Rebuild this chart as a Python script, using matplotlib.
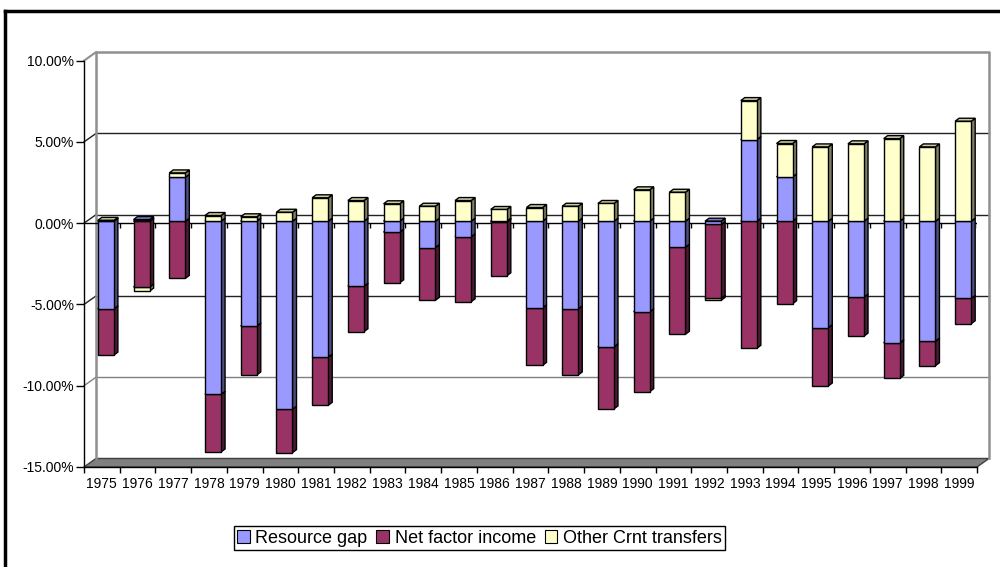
import matplotlib
matplotlib.use('Agg')
import matplotlib.pyplot as plt
from matplotlib.patches import Polygon, Patch
from matplotlib.lines import Line2D
import numpy as np

plt.rcParams['font.family'] = ['Liberation Sans', 'DejaVu Sans']

# Data (% of GDP)
years = [str(y) for y in range(1975, 2000)]
resource_gap = [-5.39, 0.10, 2.70, -10.65, -6.45, -11.57, -8.36, -4.00, -0.67, -1.62,
                -0.96, -0.05, -5.33, -5.39, -7.73, -5.57, -1.60, -0.20, 5.02, 2.73,
                -6.55, -4.67, -7.48, -7.38, -4.75]
net_factor_income = [-2.85, -4.05, -3.52, -3.55, -3.01, -2.67, -2.97, -2.80, -3.12, -3.25,
                     -4.00, -3.31, -3.54, -4.07, -3.82, -4.92, -5.36, -4.55, -7.82, -5.08,
                     -3.59, -2.40, -2.19, -1.51, -1.56]
other_transfers = [0.05, -0.25, 0.27, 0.35, 0.27, 0.55, 1.44, 1.27, 1.07, 0.92,
                   1.27, 0.72, 0.84, 0.92, 1.09, 1.93, 1.78, -0.12, 2.40, 2.05,
                   4.57, 4.76, 5.08, 4.57, 6.15]
series_names = ['Resource gap', 'Net factor income', 'Other Crnt transfers']
series_colors = ['#9999FF', '#993366', '#FFFFCC']
y_ticks = [-15, -10, -5, 0, 5, 10]

fig = plt.figure(figsize=(10, 5.67), dpi=100)
ax = fig.add_axes([0.084, 0.1764, 0.893, 0.7166])
n = len(years)
ax.set_xlim(0, n)
ax.set_ylim(-15, 10)
ax.patch.set_visible(False)
ax.autoscale(False)

# pixel -> data conversion for the fake 3d depth
p0 = ax.transData.transform((0, 0))
p1 = ax.transData.transform((1, 1))
sx, sy = p1[0] - p0[0], p1[1] - p0[1]
wx, wy = 12 / sx, 8.5 / sy      # wall depth
fx, fy = 4 / sx, 2 / sy         # bar front offset from front plane
dx, dy = 4 / sx, 3 / sy         # bar depth


def shade(c, f):
    rgb = np.array(matplotlib.colors.to_rgb(c))
    return tuple(rgb * f)


# walls and floor
floor = Polygon([(0, -15), (n, -15), (n + wx, -15 + wy), (wx, -15 + wy)],
                facecolor='#808080', edgecolor='#404040', lw=1, zorder=0.5, clip_on=False)
ax.add_patch(floor)
for v in y_ticks[1:-1]:
    col = '#808080' if v == -10 else '#222222'
    ax.plot([wx, n + wx], [v + wy, v + wy], color=col, lw=1, zorder=0.6, clip_on=False)
    ax.plot([0, wx], [v, v + wy], color=col, lw=1, zorder=0.6, clip_on=False)
ax.plot([wx, wx, n + wx, n + wx], [-15 + wy, 10 + wy, 10 + wy, -15 + wy],
        color='#909090', lw=1.8, zorder=0.6, clip_on=False)
ax.plot([0, wx], [10, 10 + wy], color='#909090', lw=1.5, zorder=0.6, clip_on=False)

# front zero line with ticks
ax.axhline(0, color='black', lw=1, zorder=0.8)
ax.vlines(np.arange(1, n + 1), -5 / sy, 0, color='black', lw=1, zorder=0.8)

# stacked 3d bars
bw = 0.45
values = [resource_gap, net_factor_income, other_transfers]


def draw_seg(xc, y0, y1, color, z):
    xl = xc - bw / 2 + fx
    xr = xc + bw / 2 + fx
    lo, hi = min(y0, y1) + fy, max(y0, y1) + fy
    kw = dict(edgecolor='black', lw=1, zorder=z, clip_on=False, joinstyle='miter')
    ax.add_patch(Polygon([(xr, lo), (xr + dx, lo + dy), (xr + dx, hi + dy), (xr, hi)],
                         facecolor=shade(color, 0.5), **kw))
    ax.add_patch(Polygon([(xl, hi), (xr, hi), (xr + dx, hi + dy), (xl + dx, hi + dy)],
                         facecolor=shade(color, 0.8), **kw))
    ax.add_patch(Polygon([(xl, lo), (xr, lo), (xr, hi), (xl, hi)],
                         facecolor=color, **kw))


for i in range(n):
    xc = i + 0.5
    neg, pos = [], []
    nb, pb = 0.0, 0.0
    for s in range(3):
        v = values[s][i]
        if v < 0:
            neg.append((nb, nb + v, series_colors[s]))
            nb += v
        else:
            pos.append((pb, pb + v, series_colors[s]))
            pb += v
    for seg in reversed(neg):
        draw_seg(xc, seg[0], seg[1], seg[2], 3)
    for seg in pos:
        draw_seg(xc, seg[0], seg[1], seg[2], 3)

# axes
for sp in ['top', 'right']:
    ax.spines[sp].set_visible(False)
ax.spines['left'].set_linewidth(1)
ax.spines['bottom'].set_linewidth(1)
ax.set_yticks(y_ticks)
ax.set_yticklabels([f'{v:.2f}%' for v in y_ticks])
ax.tick_params(axis='y', length=6, width=1, pad=1, labelsize=10)
ax.set_xticks(np.arange(n) + 0.5)
ax.set_xticklabels(years)
ax.set_xticks(np.arange(n + 1), minor=True)
ax.tick_params(axis='x', which='major', length=0, pad=7, labelsize=10)
ax.tick_params(axis='x', which='minor', length=4, width=1)

# legend
handles = [Patch(facecolor=c, edgecolor='black', lw=0.8) for c in series_colors]
leg = fig.legend(handles, series_names, loc='center', bbox_to_anchor=(0.4795, 0.0511),
                 ncol=3, frameon=True, fancybox=False, edgecolor='black', framealpha=1,
                 fontsize=13, handlelength=0.7, handleheight=0.7, handletextpad=0.3,
                 columnspacing=0.5, borderpad=0.2, borderaxespad=0)
leg.get_frame().set_linewidth(1)

# outer frame (cropped)
fig.add_artist(Line2D([0.005, 0.005], [0, 0.9806], color='black', lw=2.5))
fig.add_artist(Line2D([0.005, 1.0], [0.9806, 0.9806], color='black', lw=2.5))

fig.savefig('out.png', dpi=100)
